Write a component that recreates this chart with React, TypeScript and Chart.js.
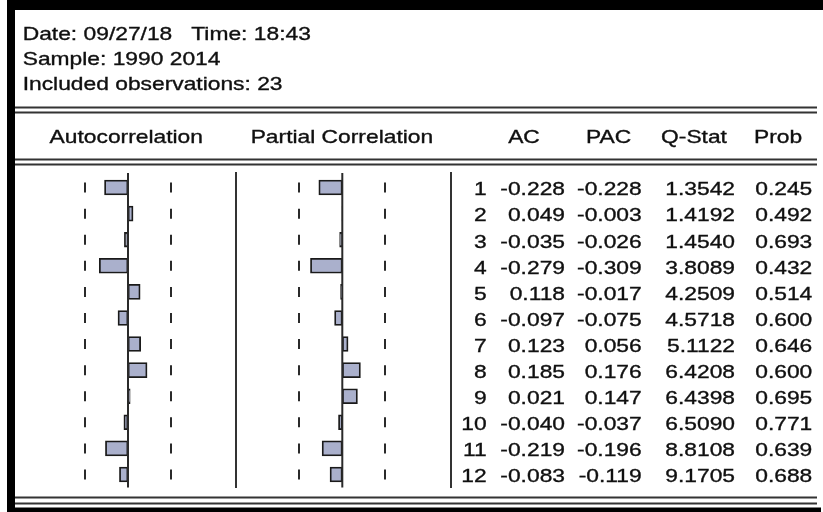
import React, { useEffect, useRef } from "react";
import { Chart, registerables } from "chart.js";

Chart.register(...registerables);

// ---- data ----
const LAGS = ["1", "2", "3", "4", "5", "6", "7", "8", "9", "10", "11", "12"];
const AC = [-0.228, 0.049, -0.035, -0.279, 0.118, -0.097, 0.123, 0.185, 0.021, -0.04, -0.219, -0.083];
const PAC = [-0.228, -0.003, -0.026, -0.309, -0.017, -0.075, 0.056, 0.176, 0.147, -0.037, -0.196, -0.119];
const QSTAT = [1.3542, 1.4192, 1.454, 3.8089, 4.2509, 4.5718, 5.1122, 6.4208, 6.4398, 6.509, 8.8108, 9.1705];
const PROB = [0.245, 0.492, 0.693, 0.432, 0.514, 0.6, 0.646, 0.6, 0.695, 0.771, 0.639, 0.688];
const OBSERVATIONS = 23;
const HEADER_LINES = ["Date: 09/27/18   Time: 18:43", "Sample: 1990 2014", "Included observations: " + OBSERVATIONS];
const PANEL_TITLES = ["Autocorrelation", "Partial Correlation"];
const COLUMN_TITLES = ["AC", "PAC", "Q-Stat", "Prob"];

const BOUND = 2 / Math.sqrt(OBSERVATIONS);

const W = 823;
const H = 512;
const FONT = '19px "Liberation Sans", Arial, sans-serif';
const SX = 1.2;
const TEXT_COLOR = "#101010";
const LINE_COLOR = "#333333";
const BAR_FILL = "#aab0cc";
const BAR_BORDER = "#1a1a1a";

function drawText(ctx: CanvasRenderingContext2D, t: string, x: number, y: number, align: CanvasTextAlign) {
  ctx.save();
  ctx.translate(x, y);
  ctx.scale(SX, 1);
  ctx.textAlign = align;
  ctx.textBaseline = "alphabetic";
  ctx.fillText(t, 0, 0);
  ctx.lineWidth = 0.35;
  ctx.strokeText(t, 0, 0);
  ctx.restore();
}

const refLines = {
  id: "refLines",
  afterDatasetsDraw(chart: any) {
    const { ctx, chartArea, scales } = chart;
    const x = scales.x;
    const y = scales.y;
    ctx.save();
    ctx.strokeStyle = "#2a2a2a";
    ctx.lineWidth = 2;
    const x0 = x.getPixelForValue(0);
    ctx.beginPath();
    ctx.moveTo(x0, chartArea.top - 1.5);
    ctx.lineTo(x0, chartArea.bottom);
    ctx.stroke();
    ctx.beginPath();
    LAGS.forEach((_, i) => {
      const yc = y.getPixelForValue(i);
      [-BOUND, BOUND].forEach((b) => {
        const px = Math.round(x.getPixelForValue(b));
        ctx.moveTo(px, yc - 5);
        ctx.lineTo(px, yc + 5);
      });
    });
    ctx.stroke();
    ctx.restore();
  },
};

const background = {
  id: "background",
  beforeDraw(chart: any) {
    const { ctx } = chart;
    ctx.save();
    ctx.fillStyle = "#ffffff";
    ctx.fillRect(0, 0, W, H);
    ctx.restore();
  },
};

const frameAndText = {
  id: "frameAndText",
  afterDraw(chart: any) {
    const { ctx, scales } = chart;
    const y = scales.y;
    ctx.save();
    // black frame
    ctx.fillStyle = "#000000";
    ctx.fillRect(7, 0, W - 7, 10);
    ctx.fillRect(7, 0, 8, H);
    ctx.fillRect(7, 507.5, 814, H - 507.5);
    // double rules
    ctx.strokeStyle = LINE_COLOR;
    ctx.lineWidth = 2;
    [107.5, 112.5, 159.5, 164.5, 497.5, 503.5].forEach((yy) => {
      ctx.beginPath();
      ctx.moveTo(15, yy);
      ctx.lineTo(817, yy);
      ctx.stroke();
    });
    // vertical separators
    [236, 451].forEach((xx) => {
      ctx.beginPath();
      ctx.moveTo(xx, 172);
      ctx.lineTo(xx, 488);
      ctx.stroke();
    });

    ctx.fillStyle = TEXT_COLOR;
    ctx.strokeStyle = TEXT_COLOR;
    ctx.font = FONT;
    // header
    HEADER_LINES.forEach((t, i) => drawText(ctx, t, 22.7, 39.5 + i * 25.3, "left"));
    // column titles
    drawText(ctx, PANEL_TITLES[0], 126.3, 143, "center");
    drawText(ctx, PANEL_TITLES[1], 341.9, 143, "center");
    const colCenters = [524, 608.7, 694, 778];
    COLUMN_TITLES.forEach((t, i) => drawText(ctx, t, colCenters[i], 143, "center"));
    // data rows
    LAGS.forEach((lag, i) => {
      const base = y.getPixelForValue(i) + 7.8;
      drawText(ctx, lag, 486.7, base, "right");
      drawText(ctx, AC[i].toFixed(3), 565, base, "right");
      drawText(ctx, PAC[i].toFixed(3), 641.7, base, "right");
      drawText(ctx, QSTAT[i].toFixed(4), 735, base, "right");
      drawText(ctx, PROB[i].toFixed(3), 812.3, base, "right");
    });
    ctx.restore();
  },
};

function makeConfig(values: number[], left: number, right: number, extraPlugins: any[]): any {
  return {
    type: "bar",
    data: {
      labels: LAGS,
      datasets: [
        {
          data: values,
          backgroundColor: BAR_FILL,
          borderColor: BAR_BORDER,
          borderWidth: 1.8,
          borderSkipped: false,
          barThickness: 15,
          clip: false,
        },
      ],
    },
    options: {
      indexAxis: "y",
      responsive: false,
      devicePixelRatio: 1,
      animation: false,
      events: [],
      layout: { padding: { left, right: W - right, top: 174.5, bottom: H - 487.5 } },
      scales: {
        x: { type: "linear", min: -1, max: 1, display: false },
        y: { type: "category", display: false, offset: true },
      },
      plugins: { legend: { display: false }, tooltip: { enabled: false } },
    },
    plugins: [...extraPlugins, refLines],
  };
}

export default function App() {
  const acRef = useRef<HTMLCanvasElement>(null);
  const pacRef = useRef<HTMLCanvasElement>(null);

  useEffect(() => {
    const c1 = new Chart(acRef.current as HTMLCanvasElement, makeConfig(AC, 25, 231, [background, frameAndText]));
    const c2 = new Chart(pacRef.current as HTMLCanvasElement, makeConfig(PAC, 239.3, 445.3, []));
    return () => {
      c1.destroy();
      c2.destroy();
    };
  }, []);

  const style: React.CSSProperties = { position: "absolute", left: 0, top: 0, width: W, height: H };
  return (
    <div style={{ position: "fixed", left: 0, top: 0, width: W, height: H, background: "#fff" }}>
      <canvas ref={acRef} width={W} height={H} style={style} />
      <canvas ref={pacRef} width={W} height={H} style={style} />
    </div>
  );
}
